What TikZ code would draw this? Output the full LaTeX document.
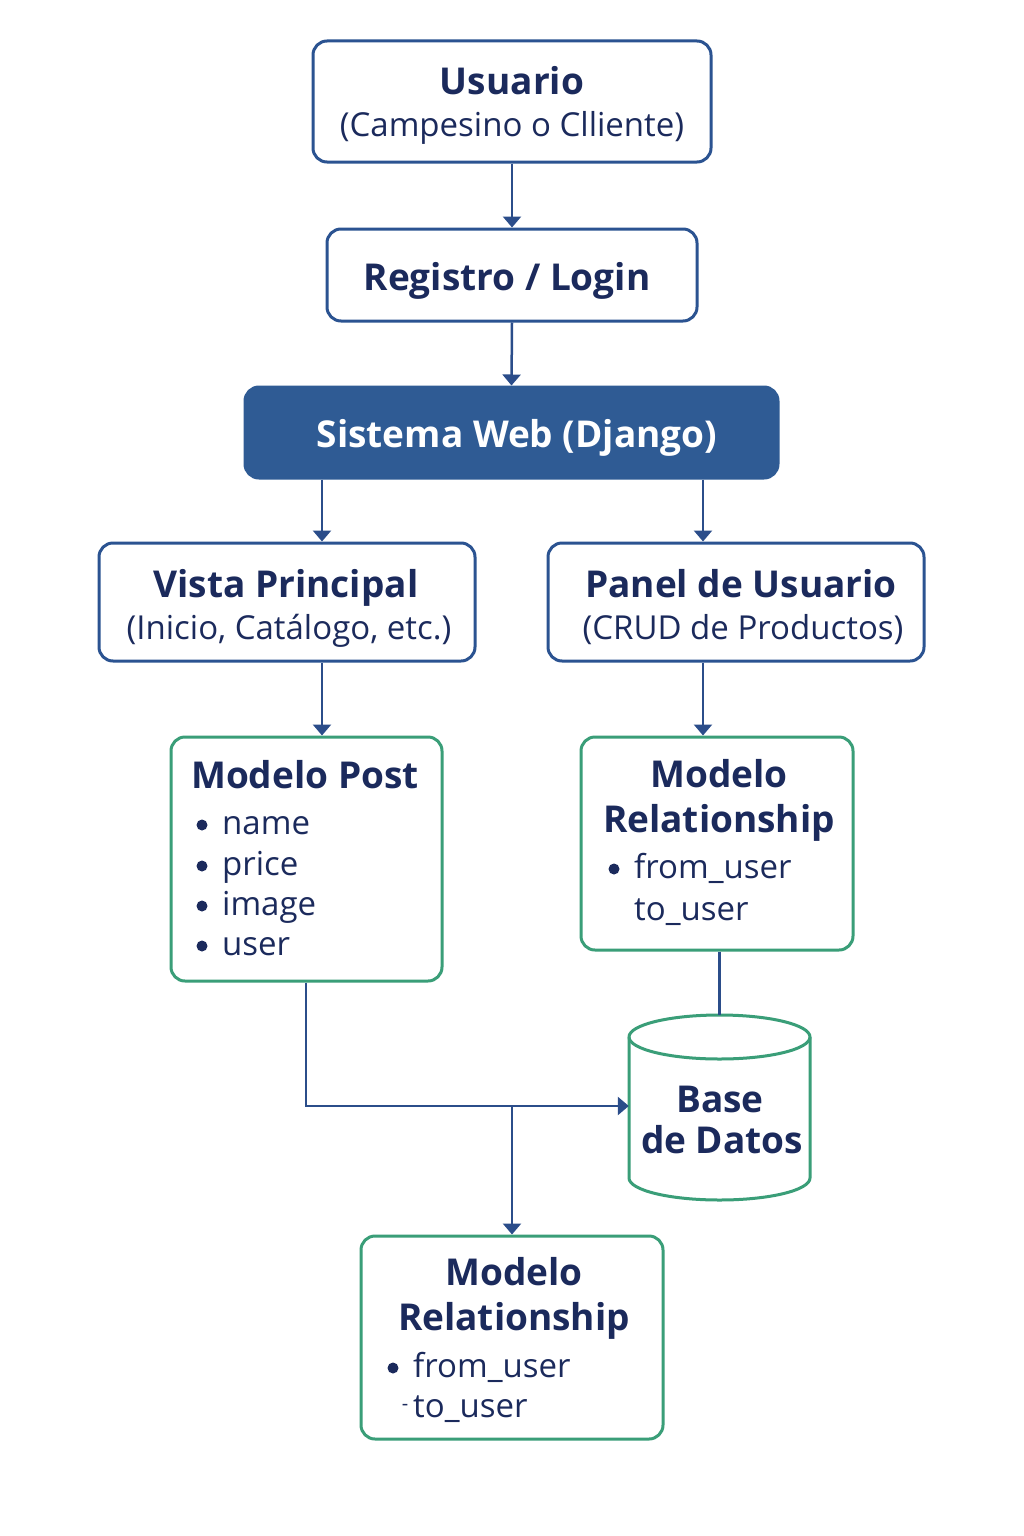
\documentclass[tikz,border=0pt]{standalone}
\usepackage{fontspec}
\setmainfont{Open Sans}
\usetikzlibrary{arrows.meta}
\definecolor{navy}{HTML}{1B2A5C}
\definecolor{bblue}{HTML}{2B5391}
\definecolor{fblue}{HTML}{2F5B94}
\definecolor{ggreen}{HTML}{3A9E78}
\definecolor{aline}{HTML}{2B4D8A}
\begin{document}
\begin{tikzpicture}[x=1pt,y=-1pt,
  bluebox/.style={draw=bblue,line width=3pt,rounded corners=14pt,fill=white,inner sep=0pt},
  greenbox/.style={draw=ggreen,line width=3pt,rounded corners=14pt,fill=white,inner sep=0pt},
  webbox/.style={draw=fblue,line width=3pt,rounded corners=14pt,fill=fblue,inner sep=0pt},
  arr/.style={draw=aline,line width=2.5pt,-{Triangle[width=18pt,length=11pt]}},
  conn/.style={draw=aline,line width=2.5pt},
  ttl/.style={text=navy,font=\fontsize{37}{40}\selectfont\bfseries,inner sep=0pt,anchor=base},
  sub/.style={text=navy,font=\fontsize{33}{36}\selectfont,inner sep=0pt,anchor=base},
  itm/.style={text=navy,font=\fontsize{33}{36}\selectfont,inner sep=0pt,anchor=base west},
  dot/.style={circle,fill=navy,minimum size=11pt,inner sep=0pt}]
\useasboundingbox[fill=white] (0,0) rectangle (1024,1536);

% boxes
\node[bluebox,minimum width=398pt,minimum height=121pt] (usr) at (512,101.5) {};
\node[bluebox,minimum width=370pt,minimum height=92pt] (reg) at (512,275) {};
\node[webbox,minimum width=533pt,minimum height=91pt] (web) at (511.5,432.5) {};
\node[bluebox,minimum width=376pt,minimum height=118pt] (vista) at (287,602) {};
\node[bluebox,minimum width=376pt,minimum height=118pt] (panel) at (736,602) {};
\node[greenbox,minimum width=271pt,minimum height=244pt] (post) at (306.5,859) {};
\node[greenbox,minimum width=272pt,minimum height=213pt] (relr) at (717,843.5) {};
\node[greenbox,minimum width=302pt,minimum height=203pt] (relb) at (512,1337.5) {};
\node[minimum width=181pt,minimum height=182pt,inner sep=0pt] (db) at (719.5,1106) {};
% cylinder
\draw[ggreen,line width=3pt,fill=white] (629,1037) -- (629,1178) arc[start angle=180,end angle=360,x radius=90.5pt,y radius=22pt] -- (810,1037) arc[start angle=0,end angle=180,x radius=90.5pt,y radius=22pt] -- cycle;
\draw[ggreen,line width=3pt] (629,1037) arc[start angle=180,end angle=360,x radius=90.5pt,y radius=22pt];

% texts
\node[ttl] (tusr) at (512,95) {Usuario};
\node[sub] (susr) at (512,137) {(Campesino o Clliente)};
\node[ttl] (treg) at (507,290) {Registro / Login};
\node[ttl,text=white] (tweb) at (517,447) {Sistema Web (Django)};
\node[ttl] (tvista) at (286,597) {Vista Principal};
\node[sub] (svista) at (289,639) {(Inicio, Catálogo, etc.)};
\node[ttl] (tpanel) at (741,597) {Panel de Usuario};
\node[sub] (spanel) at (743,639) {(CRUD de Productos)};

\node[ttl,anchor=base west] (tpost) at (191,788) {Modelo Post};
\node[dot] (d1) at (202,825) {};
\node[itm] (i1) at (222,834) {name};
\node[dot] (d2) at (202,866) {};
\node[itm] (i2) at (222,875) {price};
\node[dot] (d3) at (202,906) {};
\node[itm] (i3) at (222,915) {image};
\node[dot] (d4) at (202,946) {};
\node[itm] (i4) at (222,955) {user};

\node[ttl] (tr1) at (719,787) {Modelo};
\node[ttl] (tr2) at (719,832) {Relationship};
\node[dot] (d5) at (614,869) {};
\node[itm] (i5) at (634,878) {from\_user};
\node[itm] (i6) at (634,920) {to\_user};

\node[ttl] (tdb1) at (720,1112) {Base};
\node[ttl] (tdb2) at (722,1153) {de Datos};

\node[ttl] (tb1) at (514,1285) {Modelo};
\node[ttl] (tb2) at (514,1330) {Relationship};
\node[dot] (d7) at (393,1368) {};
\node[itm] (i7) at (413,1377) {from\_user};
\node[itm] (i8) at (413,1417) {to\_user};
\node[text=navy,font=\fontsize{20}{20}\selectfont,inner sep=0pt] (dash) at (405,1407) {-};

% connectors
\draw[arr] (usr.south) -- (reg.north);
\draw[arr] (reg.south) -- (web.north);
\draw[arr] (web.south -| 322,0) -- (vista.north -| 322,0);
\draw[arr] (web.south -| 703,0) -- (panel.north -| 703,0);
\draw[arr] (vista.south -| 322,0) -- (post.north -| 322,0);
\draw[arr] (panel.south -| 703,0) -- (relr.north -| 703,0);
\draw[conn] (relr.south -| db.north) -- (db.north);
\draw[arr] (post.south -| 306,0) |- (db.west);
\coordinate (j) at (512,1106);
\draw[arr] (j) -- (relb.north);
\end{tikzpicture}
\end{document}
